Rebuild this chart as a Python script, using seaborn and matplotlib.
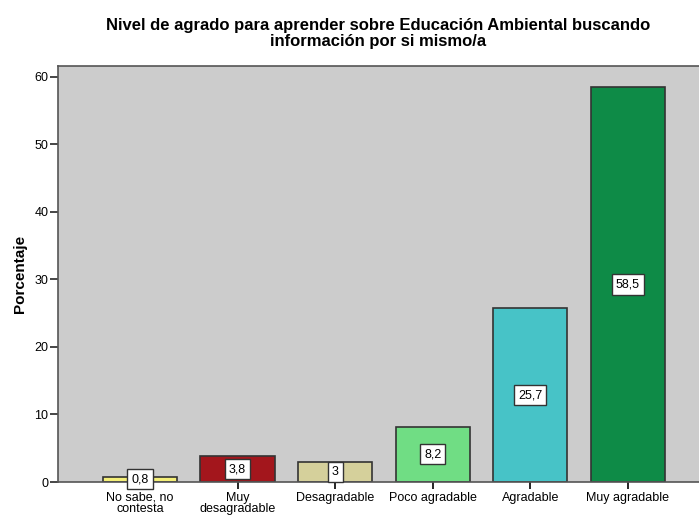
import matplotlib
matplotlib.use("Agg")
import matplotlib.pyplot as plt
import seaborn as sns
import pandas as pd

categories = ["No sabe, no\ncontesta", "Muy\ndesagradable", "Desagradable",
              "Poco agradable", "Agradable", "Muy agradable"]
percentages = [0.8, 3.8, 3.0, 8.2, 25.7, 58.5]
value_labels = ["0,8", "3,8", "3", "8,2", "25,7", "58,5"]
bar_colors = ["#F4EF78", "#A3161C", "#D5D09B", "#70DD84", "#47C3C7", "#0E8B47"]
yticks = [0, 10, 20, 30, 40, 50, 60]

sns.set_theme(style="white")
plt.rcParams["font.family"] = ["Liberation Sans", "DejaVu Sans"]

df = pd.DataFrame({"categoria": categories, "porcentaje": percentages})

fig = plt.figure(figsize=(6.99, 5.15), dpi=100)
ax = fig.add_axes([0.083, 0.064, 0.917, 0.808])
ax.set_facecolor("#CCCCCC")

sns.barplot(data=df, x="categoria", y="porcentaje", hue="categoria",
            palette=bar_colors, order=categories, hue_order=categories,
            saturation=1, width=0.76, edgecolor="#333333", linewidth=1.2,
            legend=False, ax=ax)

for i, (v, lab) in enumerate(zip(percentages, value_labels)):
    ax.text(i, v / 2, lab, ha="center", va="center", fontsize=9, color="black",
            bbox=dict(boxstyle="square,pad=0.33", facecolor="white",
                      edgecolor="#333333", linewidth=1.0))

ax.set_xlim(-0.84, 5.73)
ax.set_ylim(0, 61.6)
ax.set_yticks(yticks)
ax.set_yticklabels([str(t) for t in yticks], fontsize=9, color="black")
ax.tick_params(axis="x", labelsize=9, colors="black", length=5, width=1.2,
               direction="out", pad=2, bottom=True)
ax.tick_params(axis="y", length=6, width=1.2, direction="out", pad=1, left=True)
for t in ax.xaxis.get_ticklines() + ax.yaxis.get_ticklines():
    t.set_color("#444444")
for lab in ax.get_xticklabels():
    lab.set_linespacing(0.95)

for side in ["left", "bottom", "top"]:
    ax.spines[side].set_color("#555555")
    ax.spines[side].set_linewidth(1.2)
ax.spines["right"].set_visible(False)

ax.set_xlabel("")
ax.set_ylabel("Porcentaje", fontsize=11, fontweight="bold", color="black",
              labelpad=5)
ax.set_title("Nivel de agrado para aprender sobre Educación Ambiental buscando\n"
             "información por si mismo/a", fontsize=12, fontweight="bold",
             color="black", linespacing=1.12, pad=14)

fig.savefig("out.png", dpi=100)
